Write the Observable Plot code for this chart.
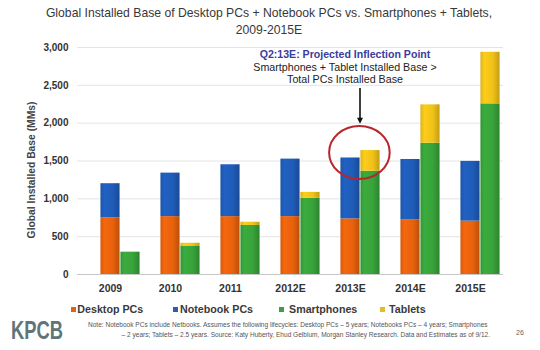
<!DOCTYPE html>
<html>
<head>
<meta charset="utf-8">
<script src="https://cdn.jsdelivr.net/npm/d3@7"></script>
<script src="https://cdn.jsdelivr.net/npm/@observablehq/plot@0.6"></script>
<style>
  body { margin: 0; background: #fff; font-family: "Liberation Sans", Arial, Helvetica, sans-serif; }
  #wrap { position: relative; width: 540px; height: 350px; overflow: hidden; background: #fff; }
  #title { position: absolute; left: 0; top: 5px; width: 538px; text-align: center; font-size: 12.2px; line-height: 17px; color: #383838; }
  #chart { position: absolute; left: 0; top: 38px; }
  #chart svg [aria-label^="x-axis"] text { font-weight: bold; font-size: 10.5px; fill: #333; }
  #chart svg [aria-label^="y-axis"] text { font-weight: bold; font-size: 10px; fill: #333; }
  .lg-sw { position: absolute; width: 5px; height: 5px; top: 307px; }
  .lg-tx { position: absolute; top: 303px; font-size: 10.7px; line-height: 12px; font-weight: bold; color: #3a3a3a; white-space: nowrap; }
  #logo { position: absolute; left: 11px; top: 318px; font-size: 25.5px; line-height: 25.5px; font-weight: bold; color: #617579; transform: scaleX(0.72); transform-origin: left top; white-space: nowrap; }
  .note { position: absolute; font-size: 6.55px; line-height: 8px; color: #555; white-space: nowrap; }
  #page { position: absolute; left: 516px; top: 329px; font-size: 7px; color: #666; }
</style>
</head>
<body>
<div id="wrap">
  <div id="title">Global Installed Base of Desktop PCs + Notebook PCs vs. Smartphones + Tablets,<br>2009-2015E</div>
  <div id="chart"></div>
  <div id="legend"></div>
  <div id="logo">KPCB</div>
  <div class="note" id="note1" style="left:88px; top:321px;">Note: Notebook PCs include Netbooks. Assumes the following lifecycles: Desktop PCs – 5 years; Notebooks PCs – 4 years; Smartphones</div>
  <div class="note" id="note2" style="right:50px; top:331px;">– 2 years; Tablets – 2.5 years. Source: Katy Huberty, Ehud Gelblum, Morgan Stanley Research. Data and Estimates as of 9/12.</div>
  <div id="page">26</div>
</div>
<script>
// ---- data (MMs) ----
const years = ["2009", "2010", "2011", "2012E", "2013E", "2014E", "2015E"];
const desktopPCs  = [750, 765, 765, 765, 735, 720, 705];
const notebookPCs = [450, 575, 685, 760, 805, 800, 790];
const smartphones = [295, 370, 648, 1008, 1365, 1735, 2255];
const tablets     = [0, 43, 43, 77, 273, 507, 682];
const yTicks = [0, 500, 1000, 1500, 2000, 2500, 3000];
const seriesNames  = ["Desktop PCs", "Notebook PCs", "Smartphones", "Tablets"];
const seriesColors = ["#e8620c", "#1f5cb8", "#38a33a", "#f0c219"];
const legendColors = ["#dd6420", "#2c5fa6", "#409e40", "#e2bb25"];

// annotation
const annoYear = "2013E";
const annoTitle = "Q2:13E: Projected Inflection Point";
const annoLines = ["Smartphones + Tablet Installed Base >", "Total PCs Installed Base"];
const annoTextY = [2907, 2736, 2570];
const arrowFromTo = [2458, 1985];
const circleY = 1606;

// ---- tables ----
const pcRows = years.flatMap((yr, i) => [
  {year: yr, series: "Desktop PCs", value: desktopPCs[i]},
  {year: yr, series: "Notebook PCs", value: notebookPCs[i]}
]);
const mobileRows = years.flatMap((yr, i) => [
  {year: yr, series: "Smartphones", value: smartphones[i]},
  {year: yr, series: "Tablets", value: tablets[i]}
]);
const gradOf = d => `url(#grad-${seriesNames.indexOf(d.series)})`;

const plot = Plot.plot({
  width: 540,
  height: 262,
  marginLeft: 77,
  marginRight: 37,
  marginTop: 9,
  marginBottom: 26,
  style: {fontFamily: "'Liberation Sans', Arial, Helvetica, sans-serif", fontSize: "10px", color: "#333", background: "transparent"},
  x: {type: "band", domain: years, padding: 0, tickSize: 0, tickPadding: 10, label: null},
  y: {domain: [0, 3000], ticks: yTicks, tickFormat: d3.format(","), tickSize: 0, tickPadding: 9, label: null},
  color: {type: "identity"},
  marks: [
    Plot.ruleY(yTicks.filter(t => t > 0), {stroke: "#e4e4e4", strokeOpacity: 1}),
    Plot.ruleY([0], {stroke: "#c8c8c8", strokeOpacity: 1}),
    Plot.barY(pcRows, {x: "year", y: "value", fill: gradOf, insetLeft: 20.43, insetRight: 20.43}),
    Plot.barY(mobileRows, {x: "year", y: "value", fill: gradOf, insetLeft: 20.43, insetRight: 20.43, dx: 20})
  ]
});
document.getElementById("chart").appendChild(plot);

// gradients for the shaded bars
const svg = d3.select(plot);
const defs = svg.insert("defs", ":first-child");
seriesColors.forEach((c, i) => {
  const base = d3.color(c);
  const g = defs.append("linearGradient").attr("id", "grad-" + i)
    .attr("x1", 0).attr("x2", 1).attr("y1", 0).attr("y2", 0);
  [[0, base.darker(0.25)], [0.2, base.brighter(0.15)], [0.65, base], [1, base.darker(0.6)]]
    .forEach(([o, col]) => g.append("stop").attr("offset", o).attr("stop-color", col.formatHex()));
});

// y-axis title
svg.append("text")
  .attr("transform", "translate(31,132) rotate(-90)")
  .attr("text-anchor", "middle")
  .attr("dy", "0.35em")
  .style("font-weight", "bold").style("font-size", "10.3px").style("fill", "#444")
  .text("Global Installed Base (MMs)");

// annotation through the plot's scales
const xs = plot.scale("x"), ys = plot.scale("y");
const cx = xs.apply(annoYear) + xs.bandwidth / 2;
const ann = svg.append("g");
ann.append("text").attr("x", cx - 5).attr("y", ys.apply(annoTextY[0])).attr("dy", "0.35em")
  .attr("text-anchor", "middle").style("font-weight", "bold").style("font-size", "10.6px").style("fill", "#3b3c9c")
  .text(annoTitle);
annoLines.forEach((t, k) => {
  ann.append("text").attr("x", cx - 5).attr("y", ys.apply(annoTextY[k + 1])).attr("dy", "0.35em")
    .attr("text-anchor", "middle").style("font-size", "10.7px").style("fill", "#222")
    .text(t);
});
const ax = cx + 10;
const ay1 = ys.apply(arrowFromTo[0]), ay2 = ys.apply(arrowFromTo[1]);
ann.append("line").attr("x1", ax).attr("x2", ax).attr("y1", ay1).attr("y2", ay2 - 5)
  .attr("stroke", "#111").attr("stroke-width", 1.6);
ann.append("path").attr("d", `M${ax - 3},${ay2 - 6}L${ax + 3},${ay2 - 6}L${ax},${ay2}Z`).attr("fill", "#111");
ann.append("ellipse").attr("cx", cx + 9.4).attr("cy", ys.apply(circleY)).attr("rx", 30.3).attr("ry", 26.5)
  .attr("fill", "none").attr("stroke", "#b8262a").attr("stroke-width", 2);

// legend
const lgSw = [71, 173, 279, 380];
const lgTx = [77.3, 180, 289, 389];
const legend = document.getElementById("legend");
seriesNames.forEach((s, i) => {
  const sw = document.createElement("div");
  sw.className = "lg-sw"; sw.style.left = lgSw[i] + "px"; sw.style.background = legendColors[i];
  legend.appendChild(sw);
  const tx = document.createElement("div");
  tx.className = "lg-tx"; tx.style.left = lgTx[i] + "px"; tx.textContent = s;
  legend.appendChild(tx);
});
</script>
</body>
</html>
